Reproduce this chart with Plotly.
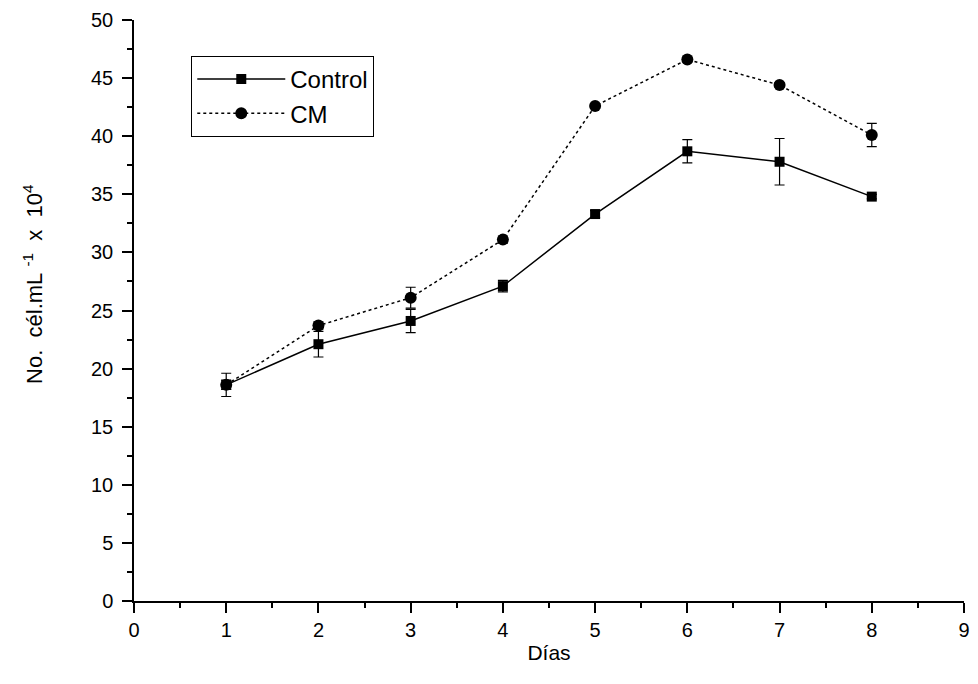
import plotly.graph_objects as go

dias = [1, 2, 3, 4, 5, 6, 7, 8]
control = [18.6, 22.1, 24.1, 27.1, 33.3, 38.7, 37.8, 34.8]
control_err = [1.0, 1.1, 1.0, 0.5, 0.3, 1.0, 2.0, 0.2]
cm = [18.6, 23.7, 26.1, 31.1, 42.6, 46.6, 44.4, 40.1]
cm_err = [0.4, 0.3, 0.9, 0.3, 0.2, 0.2, 0.2, 1.0]

font = "Liberation Sans, Arial, sans-serif"

fig = go.Figure()
fig.add_trace(go.Scatter(
    x=dias, y=control, name="Control", mode="lines+markers",
    line=dict(color="black", width=1.5),
    marker=dict(symbol="square", size=10, color="black"),
    error_y=dict(type="data", array=control_err, visible=True, color="black", thickness=1.2, width=5),
))
fig.add_trace(go.Scatter(
    x=dias, y=cm, name="CM", mode="lines+markers",
    line=dict(color="black", width=1.5, dash="dot"),
    marker=dict(symbol="circle", size=12, color="black"),
    error_y=dict(type="data", array=cm_err, visible=True, color="black", thickness=1.2, width=5),
))

fig.update_layout(
    width=978, height=684,
    margin=dict(l=134, r=8, t=20, b=83),
    paper_bgcolor="white", plot_bgcolor="white",
    font=dict(family=font, size=19, color="black"),
    showlegend=True,
    legend=dict(
        x=0.069, y=0.938, xanchor="left", yanchor="top",
        bordercolor="black", borderwidth=1, bgcolor="white",
        font=dict(size=24, family=font), itemwidth=88,
        tracegroupgap=0,
    ),
    annotations=[dict(
        text="No.&nbsp; cél.mL&nbsp;<sup>-1</sup>&nbsp; x&nbsp; 10<sup>4</sup>",
        xref="paper", yref="paper", x=-0.121, y=0.545,
        xanchor="center", yanchor="middle", textangle=-90, showarrow=False,
        font=dict(size=22, family=font),
    )],
)
fig.update_xaxes(
    range=[0, 9], tickmode="linear", tick0=0, dtick=1,
    showline=True, linecolor="black", linewidth=1.5,
    ticks="outside", ticklen=10, tickwidth=1.5, tickcolor="black",
    minor=dict(dtick=0.5, ticks="outside", ticklen=5, tickwidth=1.5, tickcolor="black"),
    showgrid=False, zeroline=False,
    title=dict(text="Días", font=dict(size=21, family=font), standoff=6),
    tickfont=dict(size=20),
)
fig.update_yaxes(
    range=[0, 50], tickmode="linear", tick0=0, dtick=5,
    showline=True, linecolor="black", linewidth=1.5,
    ticks="outside", ticklen=10, tickwidth=1.5, tickcolor="black",
    minor=dict(dtick=2.5, ticks="outside", ticklen=5, tickwidth=1.5, tickcolor="black"),
    showgrid=False, zeroline=False,
    ticklabelstandoff=5,
    tickfont=dict(size=20),
)

fig.write_html("out.html")
